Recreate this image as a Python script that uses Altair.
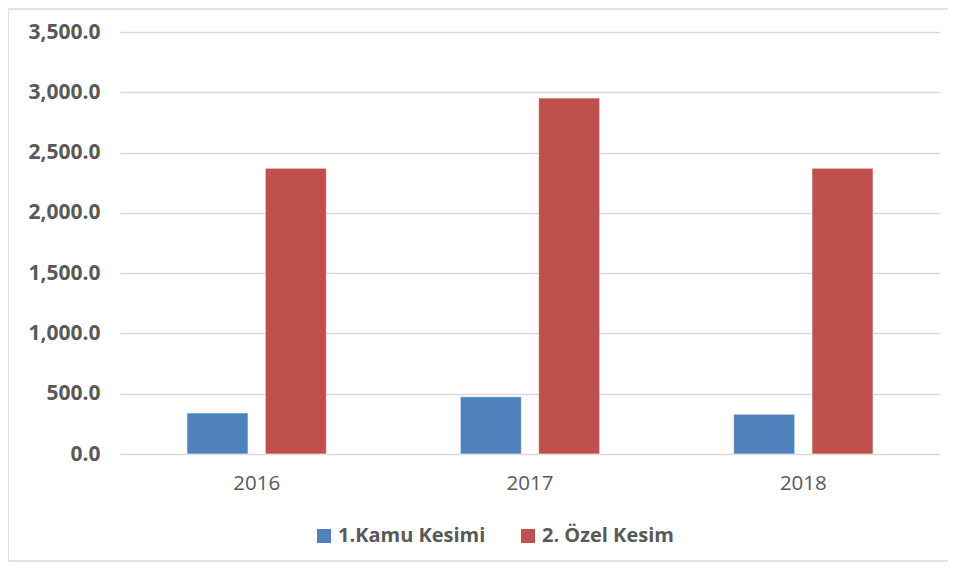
import altair as alt
import pandas as pd

years = ["2016", "2017", "2018"]
series = ["1.Kamu Kesimi", "2. Özel Kesim"]
kamu = [340.0, 475.0, 330.0]
ozel = [2370.0, 2952.0, 2370.0]
colors = ["#4f81bd", "#c0504d"]
y_ticks = [0, 500, 1000, 1500, 2000, 2500, 3000, 3500]

rows = []
for i, yr in enumerate(years):
    rows.append({"Yıl": yr, "Seri": series[0], "Değer": kamu[i]})
    rows.append({"Yıl": yr, "Seri": series[1], "Değer": ozel[i]})
df = pd.DataFrame(rows)

bars = alt.Chart(df).mark_bar(stroke="white", strokeWidth=1, strokeOpacity=0.6).encode(
    x=alt.X("Yıl:N", sort=years, title=None,
            scale=alt.Scale(paddingInner=0.49, paddingOuter=0.245),
            axis=alt.Axis(labelAngle=0, labelFont="Open Sans", labelFontSize=20.5,
                          labelColor="#595959", labelPadding=19, ticks=False,
                          domain=False, grid=False)),
    xOffset=alt.XOffset("Seri:N", sort=series,
                        scale=alt.Scale(paddingInner=0.22, paddingOuter=0)),
    y=alt.Y("Değer:Q", title=None,
            scale=alt.Scale(domain=[0, 3500], nice=False),
            axis=alt.Axis(values=y_ticks, format=",.1f", labelFont="Open Sans",
                          labelFontWeight="bold", labelFontSize=21,
                          labelColor="#595959", labelPadding=20, ticks=False,
                          domain=False, grid=True, gridColor="#d9d9d9",
                          gridWidth=1.5)),
    color=alt.Color("Seri:N", sort=series,
                    scale=alt.Scale(domain=series, range=colors),
                    legend=alt.Legend(title=None, orient="none", direction="horizontal",
                                      legendX=194, legendY=494,
                                      symbolType="square", symbolSize=196,
                                      symbolStrokeWidth=0, labelFont="Open Sans",
                                      labelFontWeight="bold", labelFontSize=20,
                                      labelColor="#595959", labelOffset=4,
                                      columnPadding=32)),
)

frame = alt.Chart(pd.DataFrame({"k": [0]})).mark_rect(
    fill=None, stroke="#d9d9d9", strokeWidth=1.5
).encode(
    x=alt.value(-112), x2=alt.value(860), y=alt.value(-23), y2=alt.value(529)
)

chart = alt.layer(frame, bars).properties(
    width=820, height=422,
    autosize=alt.AutoSizeParams(type="none"),
    padding={"left": 112, "top": 24, "right": 8, "bottom": 117},
).configure_view(stroke=None)

chart.save("out.html", embed_options={"renderer": "svg", "actions": False})
